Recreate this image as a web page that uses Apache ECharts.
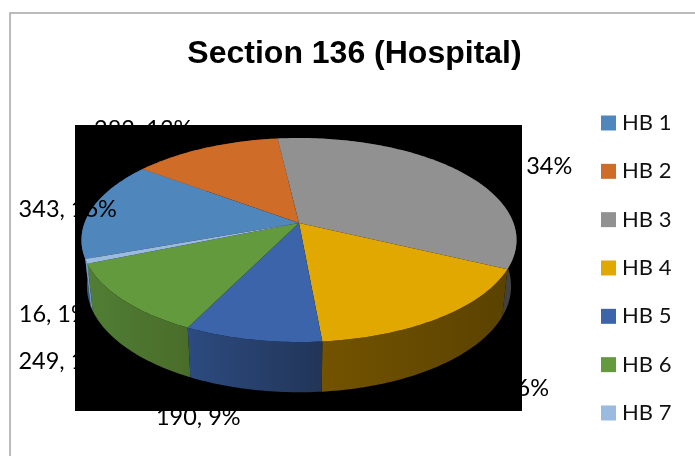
<!DOCTYPE html>
<html><head><meta charset="utf-8">
<style>html,body{margin:0;padding:0;background:#fff}#c{width:695px;height:456px}</style>
<script src="https://cdn.jsdelivr.net/npm/echarts@6/dist/echarts.min.js"></script>
</head><body><div id="c"></div>
<script>
// Data
const titleText = 'Section 136 (Hospital)';
const categories = ['HB 1','HB 2','HB 3','HB 4','HB 5','HB 6','HB 7'];
const values = [343,282,740,358,190,249,16];
const percents = [16,13,34,16,9,12,1];

// Styles
const topColors = ['#4f86bb','#cf6c27','#919191','#e0a800','#3c64ab','#629a3d','#9bbae0'];
const sideColors = [['#33587e','#33587e'],['#7a4017','#7a4017'],['#333','#424242'],['#735300','#5a4200'],['#2c4b80','#223558'],['#507e34','#4a6c2a'],['#6f98c8','#6f98c8']];
const labelFont = 'Lato, "Open Sans", sans-serif';
const labelNudge = [[-24,0],[-62,-19],[65,-4],[59,71],[-54,78],[-55,62],[-32,53]];

// Projection of the tilted disc
const apex = {x:299, y:223}, R = 214.5, S = 99.17, K = 1/6, START = -110;
const total = values.reduce((a,b)=>a+b,0);
function project(deg){
  const t = deg*Math.PI/180, u = Math.sin(t), v = -Math.cos(t), w = 1-K*v;
  return [R*u/w, S*v/w];
}
const top_ = p => [apex.x+p[0], apex.y+p[1]];
const bottom = p => [apex.x+p[0]*0.975, apex.y+p[1]*1.04+45.5];
function arc(a,b){
  const pts=[]; const n=Math.max(2,Math.ceil(Math.abs(b-a)));
  for(let i=0;i<=n;i++) pts.push(a+(b-a)*i/n);
  return pts;
}
function sliceStart(i){
  let s=START; for(let j=0;j<i;j++) s+=values[j]/total*360; return s;
}
function renderSlice(i){
  return function(){
    const a=sliceStart(i), b=a+values[i]/total*360;
    const angles=arc(a,b);
    const rim=angles.map(d=>top_(project(d)));
    const low=angles.map(d=>bottom(project(d)));
    const xs=rim.concat(low).map(p=>p[0]);
    const mid=(a+b)/2, m=top_(project(mid));
    return {type:'group',children:[
      {type:'polygon',z2:1,silent:true,shape:{points:rim.concat(low.slice().reverse())},
       style:{fill:{type:'linear',global:true,x:Math.min(...xs),y:0,x2:Math.max(...xs),y2:0,
         colorStops:[{offset:0,color:sideColors[i][0]},{offset:1,color:sideColors[i][1]}]}}},
      {type:'polygon',z2:2,silent:true,shape:{points:[[apex.x,apex.y]].concat(rim)},style:{fill:topColors[i]}},
      {type:'text',z2:5,silent:true,x:m[0]+labelNudge[i][0],y:m[1]+labelNudge[i][1],
       style:{text:values[i]+', '+percents[i]+'%',fill:'#000',font:'23.5px '+labelFont,align:'center',verticalAlign:'middle'}}
    ]};
  };
}
const chart=echarts.init(document.getElementById('c'),null,{renderer:'canvas'});
chart.setOption({
  animation:false,
  title:{text:titleText,left:354.5,top:38,padding:0,textAlign:'center',textStyle:{fontFamily:'"Liberation Sans",Arial,sans-serif',fontWeight:'bold',fontSize:32,color:'#000'}},
  legend:{orient:'vertical',left:601,top:112,padding:0,itemWidth:15,itemHeight:15,itemGap:26.33,icon:'rect',selectedMode:false,
    data:categories,textStyle:{fontFamily:labelFont,fontSize:22,color:'#111',padding:[0,0,0,1]}},
  graphic:[
    {type:'rect',z:-1,silent:true,shape:{x:10,y:13,width:720,height:480},style:{fill:'#fff',stroke:'#a6a6a6',lineWidth:1.5}},
    {type:'rect',z:0,silent:true,shape:{x:75,y:125,width:447,height:286},style:{fill:'#000'}}
  ],
  series:categories.map((name,i)=>({
    type:'custom',name,coordinateSystem:'none',z:3,
    itemStyle:{color:topColors[i]},
    data:[values[i]],renderItem:renderSlice(i)
  }))
});
</script></body></html>
